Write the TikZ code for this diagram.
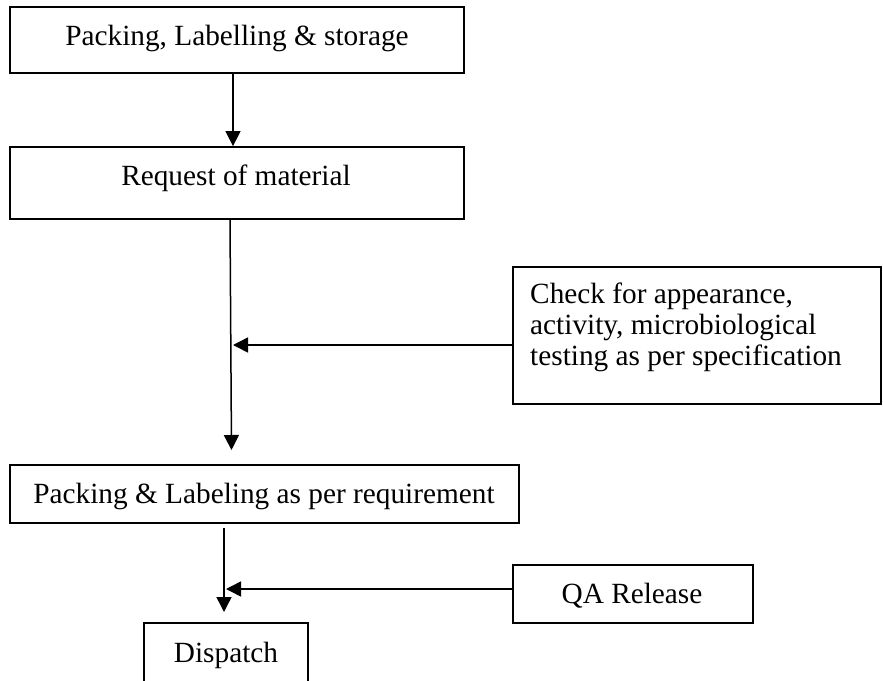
\documentclass[tikz,border=0pt]{standalone}
\usepackage{fontspec}
\setmainfont{Liberation Serif}
\usetikzlibrary{arrows.meta}
\begin{document}
\begin{tikzpicture}[x=1pt,y=-1pt,
  box/.style={draw,line width=1.8pt,rectangle,inner sep=0pt},
  lbl/.style={font=\fontsize{29.3}{31}\selectfont,inner sep=0pt,anchor=base},
  conn/.style={line width=1.5pt,-{Triangle[width=15pt,length=15pt]}}
]
\clip (0,0) rectangle (883,680);
% boxes
\node[box,minimum width=454pt,minimum height=66pt] (b1) at (237,40) {};
\node[box,minimum width=454pt,minimum height=72pt] (b2) at (237,183) {};
\node[box,minimum width=368pt,minimum height=137pt] (side) at (697,335.5) {};
\node[box,minimum width=509pt,minimum height=58pt] (b3) at (264.5,494) {};
\node[box,minimum width=240pt,minimum height=58pt] (qa) at (633,594) {};
\node[box,minimum width=164pt,minimum height=61pt] (disp) at (226,653.5) {};
% texts
\node[lbl] (t1) at (237,45) {Packing, Labelling \& storage};
\node[lbl] (t2) at (236,185) {Request of material};
\node[lbl,anchor=base west,align=left] (t4) at (530,365) {Check for appearance,\\activity, microbiological\\testing as per specification};
\node[lbl] (t3) at (264,503) {Packing \& Labeling as per requirement};
\node[lbl] (t5) at (632,603) {QA Release};
\node[lbl] (t6) at (226,662) {Dispatch};
% connectors
\coordinate (c1) at (231.5,450);
\coordinate (c2) at (233,345);
\coordinate (c3) at (224,528);
\coordinate (c4) at (224,612);
\coordinate (c5) at (226,589);
\draw[conn] ([xshift=-4pt]b1.south) -- ([xshift=-4pt]b2.north);
\draw[conn] ([xshift=-7pt]b2.south) -- (c1);
\draw[conn] (side.west |- c2) -- (c2);
\draw[conn] (c3) -- (c4);
\draw[conn] (qa.west |- c5) -- (c5);
\end{tikzpicture}
\end{document}
